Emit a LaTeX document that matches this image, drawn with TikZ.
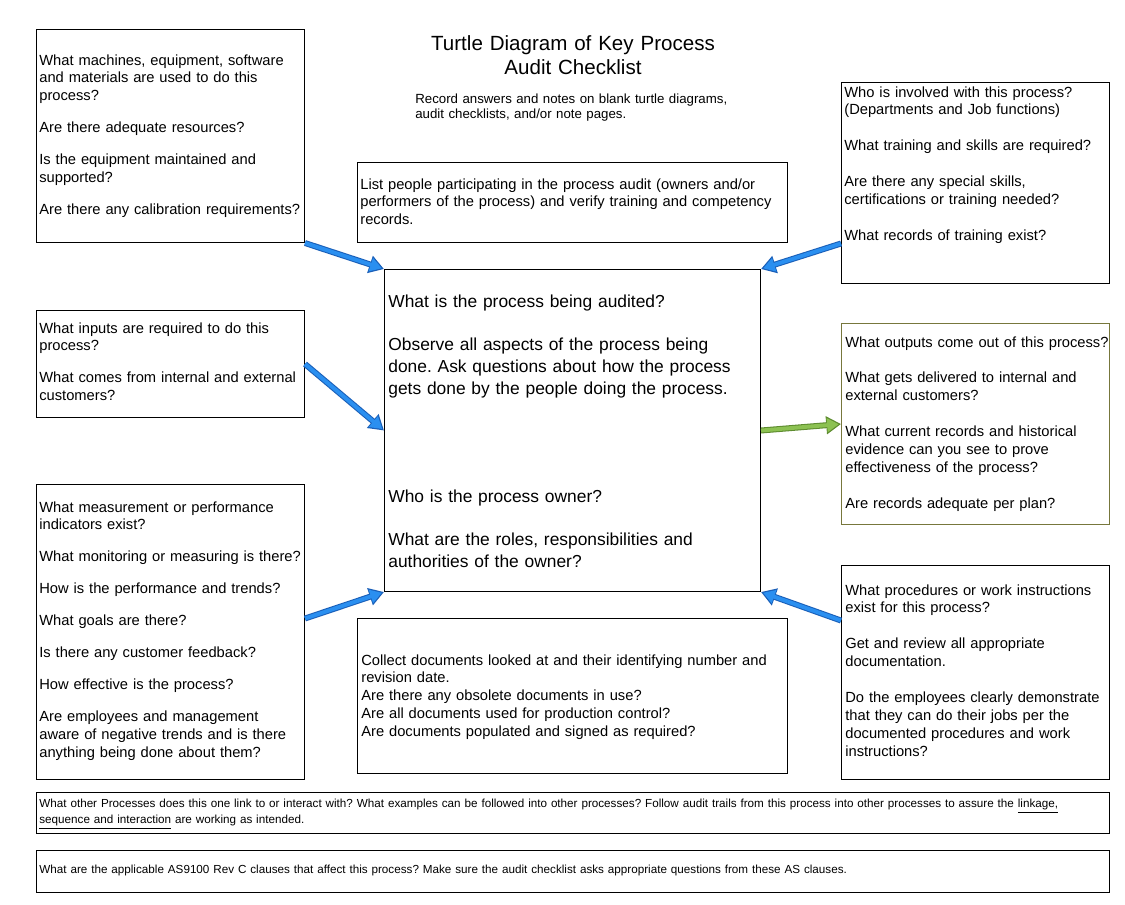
\documentclass[tikz,border=0pt]{standalone}
\usepackage{fontspec}
\setmainfont{Liberation Sans}
\usetikzlibrary{arrows.meta}
\definecolor{arrowblue}{HTML}{2A8FF0}
\definecolor{arrowblueedge}{HTML}{1A5FB8}
\definecolor{arrowgreen}{HTML}{8CC152}
\definecolor{arrowgreenedge}{HTML}{5E8C2F}
\definecolor{olivebox}{HTML}{77773C}

\tikzset{
  box/.style={draw, line width=0.6pt, inner sep=0pt, anchor=north west},
  txt/.style={inner sep=0pt, anchor=base west, align=left, text width=#1,
    font=\fontsize{8.37}{10.2}\selectfont},
  bigtxt/.style={inner sep=0pt, anchor=base west, align=left, text width=#1,
    font=\fontsize{9.9}{12.5}\selectfont},
  smalltxt/.style={inner sep=0pt, anchor=base west, align=left, text width=#1,
    font=\fontsize{6.65}{8}\selectfont},
  fatarrow/.style 2 args={draw=#1, line width=2.2pt, shorten >=1.3pt,
    -{Triangle[length=6.6pt,width=7.6pt]},
    preaction={draw=#2, line width=3.4pt, shorten >=0pt,
      -{Triangle[length=8.4pt,width=9.8pt]}}},
}

\begin{document}
\frenchspacing
\begin{tikzpicture}[x=0.02cm, y=-0.02cm]
  \useasboundingbox (0,0) rectangle (1125,904);

  % Nadpis
  \node[inner sep=0pt, anchor=base, align=center, text width=8cm,
    font=\fontsize{11.7}{14}\selectfont] (title) at (573,50)
    {Turtle Diagram of Key Process\\Audit Checklist};
  \node[inner sep=0pt, anchor=base west, align=left, text width=7cm,
    font=\fontsize{7.55}{9}\selectfont] (note) at (415,103)
    {Record answers and notes on blank turtle diagrams,\\
     audit checklists, and/or note pages.};

  % Ramecky
  \node[box, minimum width=5.36cm, minimum height=4.26cm] (tools) at (36,29) {};
  \node[box, minimum width=8.6cm, minimum height=1.6cm] (team) at (357,162) {};
  \node[box, minimum width=5.36cm, minimum height=4.02cm] (who) at (841,82) {};
  \node[box, minimum width=7.52cm, minimum height=6.44cm] (proc) at (384,269) {};
  \node[box, minimum width=5.36cm, minimum height=2.14cm] (inputs) at (36,310) {};
  \node[box, draw=olivebox, minimum width=5.36cm, minimum height=4.02cm] (outputs) at (841,323) {};
  \node[box, minimum width=5.36cm, minimum height=5.9cm] (measures) at (36,484) {};
  \node[box, minimum width=8.6cm, minimum height=3.1cm] (docs) at (357,618) {};
  \node[box, minimum width=5.36cm, minimum height=4.28cm] (howto) at (841,565) {};
  \node[box, minimum width=21.46cm, minimum height=0.82cm] (links) at (36,792) {};
  \node[box, minimum width=21.46cm, minimum height=0.84cm] (clauses) at (36,850) {};

  % Texty
  \node[txt=5.4cm] (toolstxt) at (39,65)
    {What machines, equipment, software\\
     and materials are used to do this\\
     process?\\[8pt]
     Are there adequate resources?\\[8pt]
     Is the equipment maintained and\\
     supported?\\[8pt]
     Are there any calibration requirements?};
  \node[txt=8.6cm] (teamtxt) at (360,189)
    {List people participating in the process audit (owners and/or\\
     performers of the process) and verify training and competency\\
     records.};
  \node[txt=5.4cm] (whotxt) at (844,97)
    {Who is involved with this process?\\
     (Departments and Job functions)\\[10.2pt]
     What training and skills are required?\\[10.2pt]
     Are there any special skills,\\
     certifications or training needed?\\[10.2pt]
     What records of training exist?};
  \node[bigtxt=7.5cm] (proctxt) at (388,307)
    {What is the process being audited?\\[12.5pt]
     Observe all aspects of the process being\\
     done. Ask questions about how the process\\
     gets done by the people doing the process.};
  \node[bigtxt=7.5cm] (ownertxt) at (388,502)
    {Who is the process owner?\\[12.5pt]
     What are the roles, responsibilities and\\
     authorities of the owner?};
  \node[txt=5.4cm] (inputstxt) at (39,333)
    {What inputs are required to do this\\
     process?\\[8pt]
     What comes from internal and external\\
     customers?};
  \node[txt=5.4cm] (outputstxt) at (845,347)
    {What outputs come out of this process?\\[10.2pt]
     What gets delivered to internal and\\
     external customers?\\[10.2pt]
     What current records and historical\\
     evidence can you see to prove\\
     effectiveness of the process?\\[10.2pt]
     Are records adequate per plan?};
  \node[txt=5.4cm] (measurestxt) at (39,512)
    {What measurement or performance\\
     indicators exist?\\[8pt]
     What monitoring or measuring is there?\\[8pt]
     How is the performance and trends?\\[8pt]
     What goals are there?\\[8pt]
     Is there any customer feedback?\\[8pt]
     How effective is the process?\\[8pt]
     Are employees and management\\
     aware of negative trends and is there\\
     anything being done about them?};
  \node[txt=8.6cm] (docstxt) at (361,665)
    {Collect documents looked at and their identifying number and\\
     revision date.\\
     Are there any obsolete documents in use?\\
     Are all documents used for production control?\\
     Are documents populated and signed as required?};
  \node[txt=5.4cm] (howtotxt) at (845,595)
    {What procedures or work instructions\\
     exist for this process?\\[10.2pt]
     Get and review all appropriate\\
     documentation.\\[10.2pt]
     Do the employees clearly demonstrate\\
     that they can do their jobs per the\\
     documented procedures and work\\
     instructions?};
  \node[smalltxt=21.4cm] (linkstxt) at (39,807)
    {What other Processes does this one link to or interact with? What examples can be followed into other processes? Follow audit trails from this process into other processes to assure the \underline{linkage,}\\
     \underline{sequence and interaction} are working as intended.};
  \node[smalltxt=21.4cm] (clausestxt) at (39,873)
    {What are the applicable AS9100 Rev C clauses that affect this process? Make sure the audit checklist asks appropriate questions from these AS clauses.};

  % Sipky ke stredu
  \draw[fatarrow={arrowblue}{arrowblueedge}] (tools.south east) -- (proc.north west);
  \draw[fatarrow={arrowblue}{arrowblueedge}] (inputs.east) -- (proc.west);
  \draw[fatarrow={arrowblue}{arrowblueedge}] ([yshift=0.27cm]measures.east) -- (proc.south west);
  \draw[fatarrow={arrowblue}{arrowblueedge}] ([yshift=-1.21cm]who.west) -- (proc.north east);
  \draw[fatarrow={arrowblue}{arrowblueedge}] ([yshift=1.04cm]howto.west) -- (proc.south east);
  \draw[fatarrow={arrowgreen}{arrowgreenedge}] (proc.east) -- (outputs.west);
\end{tikzpicture}
\end{document}
